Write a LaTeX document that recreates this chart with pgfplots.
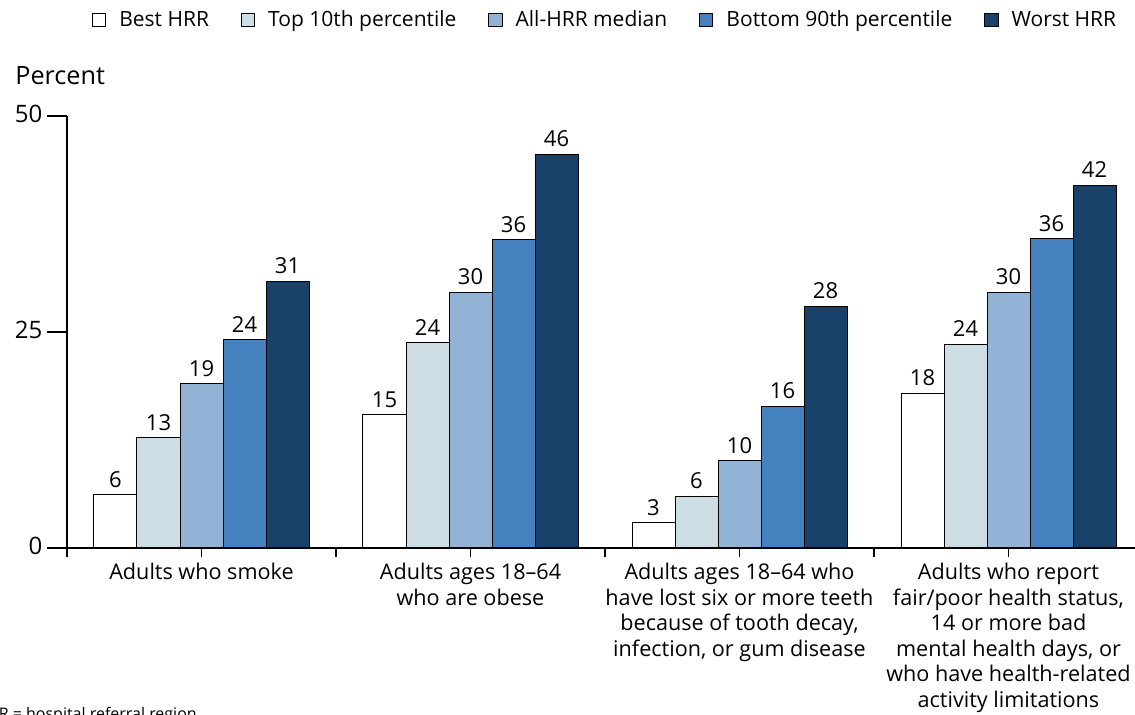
\documentclass[border=0pt]{standalone}
\usepackage{fontspec}
\setmainfont{Open Sans}
\usepackage{pgfplots}
\pgfplotsset{compat=1.18}
\definecolor{c1}{RGB}{255,255,255}
\definecolor{c2}{RGB}{204,222,227}
\definecolor{c3}{RGB}{146,179,214}
\definecolor{c4}{RGB}{69,128,191}
\definecolor{c5}{RGB}{25,66,106}
\begin{document}
\begin{tikzpicture}
\path[use as bounding box] (0pt,0pt) rectangle (567.5pt,357.5pt);
\begin{axis}[
  at={(33.5pt,83.5pt)}, anchor=south west,
  scale only axis, width=538pt, height=216pt,
  xmin=0, xmax=4, ymin=0, ymax=50,
  axis x line=bottom, axis y line=left,
  axis line style={-, black, line width=0.6pt},
  clip=false,
  ybar=0pt, bar width=21.5pt,
  font=\fontsize{10}{12}\selectfont,
  /pgf/number format/assume math mode=true,
  ytick={0,25,50},
  xtick={0,1,2,3,4},
  xticklabels={},
  tick align=outside,
  y tick style={black, line width=0.6pt, /pgfplots/major tick length=10pt},
  x tick style={black, line width=0.6pt, /pgfplots/major tick length=4.5pt},
  yticklabel style={font=\fontsize{12}{13}\selectfont, xshift=-4.5pt, yshift=1pt},
  extra x ticks={0.5,1.5,2.5,3.5},
  extra x tick labels={
    Adults who smoke,
    {Adults ages 18–64\\who are obese},
    {Adults ages 18–64 who\\have lost six or more teeth\\because of tooth decay,\\infection, or gum disease},
    {Adults who report\\fair/poor health status,\\14 or more bad\\mental health days, or\\who have health-related\\activity limitations}},
  extra x tick style={major tick length=0pt, xticklabel style={align=center, anchor=north, yshift=-4pt, font=\fontsize{10.8}{12.8}\selectfont}},
  nodes near coords={\pgfmathprintnumber[fixed,precision=0]{\pgfplotspointmeta}},
  every node near coord/.append style={font=\fontsize{11}{13}\selectfont, black, yshift=0pt},
  legend columns=5,
  legend style={draw=none, fill=none, at={(0.017,1.222)}, anchor=west,
    font=\fontsize{10.5}{12}\selectfont,
    /tikz/every odd column/.append style={column sep=4.5pt},
    /tikz/every even column/.append style={column sep=13.8pt}},
  legend image code/.code={\draw[#1, draw=black, line width=0.5pt] (0pt,-3.4pt) rectangle (6.8pt,3.4pt);},
  every axis plot/.append style={draw=black, line width=0.5pt},
]
\addplot[fill=c1] coordinates {(0.5,6.2) (1.5,15.4) (2.5,2.9) (3.5,17.9)};
\addplot[fill=c2] coordinates {(0.5,12.8) (1.5,23.8) (2.5,6.0) (3.5,23.6)};
\addplot[fill=c3] coordinates {(0.5,19.0) (1.5,29.6) (2.5,10.1) (3.5,29.6)};
\addplot[fill=c4] coordinates {(0.5,24.1) (1.5,35.7) (2.5,16.4) (3.5,35.8)};
\addplot[fill=c5] coordinates {(0.5,30.9) (1.5,45.6) (2.5,28.0) (3.5,42.0)};
\legend{Best HRR, Top 10th percentile, All-HRR median, Bottom 90th percentile, Worst HRR}
\draw[black, line width=0.6pt] (axis cs:0,0) -- ++(0,-2pt);
\end{axis}
\node[font=\fontsize{12.6}{14}\selectfont, anchor=west, inner sep=0pt] at (7.5pt,319.5pt) {Percent};
\node[font=\fontsize{8}{9}\selectfont, anchor=base west] at (-15pt,-2.5pt) {HRR = hospital referral region};
\end{tikzpicture}
\end{document}
